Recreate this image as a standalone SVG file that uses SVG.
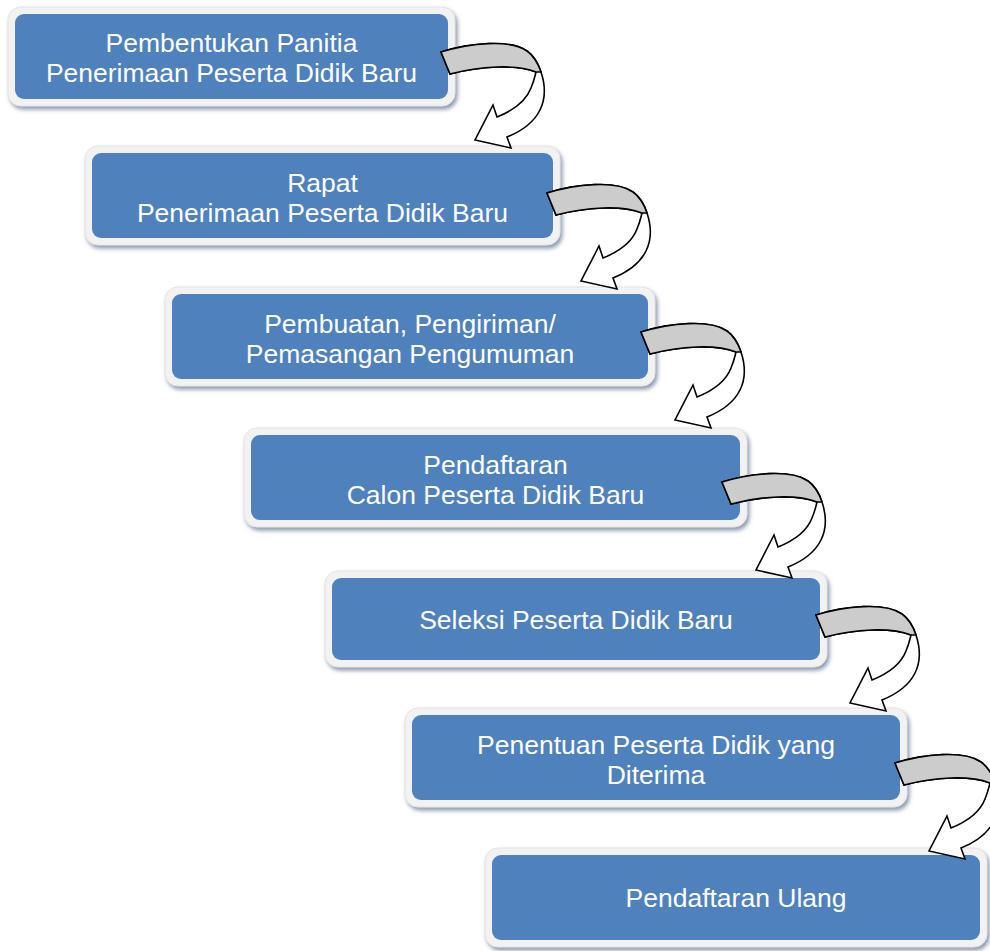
<svg xmlns="http://www.w3.org/2000/svg" xmlns:xlink="http://www.w3.org/1999/xlink" width="990" height="951" viewBox="0 0 990 951">
<style>
.frame{fill:#f2f2f2;stroke:#e4e4e4;stroke-width:1;filter:url(#sh)}
.box{fill:#4f81bd}
.lbl{font-family:"Liberation Sans",Arial,sans-serif;font-size:26.5px;fill:#ffffff;text-anchor:middle}
.aw{fill:#ffffff;stroke:#000000;stroke-width:1.6;stroke-linejoin:miter}
.ag{fill:#cccccc;stroke:#000000;stroke-width:1.6}
</style>
<defs>
<filter id="sh" x="-5%" y="-10%" width="112%" height="130%">
<feDropShadow dx="2" dy="3" stdDeviation="2" flood-color="#7d8ca5" flood-opacity="0.9"/>
</filter>
<g id="arrow">
<path class="aw" d="M441,52 C470,43 510,39 527,51 C534,56 538,63 541,72 C545,84 546,98 540,110 C534,122 522,131 507,137 L511,148 L475,140 L493,105 L497,117 C512,111 526,101 531,88 C534,81 535,76 536,72 C516,64 480,66 450,74 Z"/>
<path class="ag" d="M441,52 C470,43 510,39 527,51 C534,56 538,63 541,72 L536,72 C516,64 480,66 450,74 Z"/>
</g>
</defs>
<rect width="990" height="951" fill="#ffffff"/>
<g id="node-1">
<rect class="frame" x="8" y="7" width="447" height="99" rx="13"/>
<rect class="box" x="15" y="14" width="433" height="85" rx="9"/>
<text class="lbl" x="231.5" y="51.5">Pembentukan Panitia</text>
<text class="lbl" x="231.5" y="81.5">Penerimaan Peserta Didik Baru</text>
</g>
<g id="node-2">
<rect class="frame" x="85" y="146" width="475" height="99" rx="13"/>
<rect class="box" x="92" y="153" width="461" height="85" rx="9"/>
<text class="lbl" x="322.5" y="191.5">Rapat</text>
<text class="lbl" x="322.5" y="221.5">Penerimaan Peserta Didik Baru</text>
</g>
<g id="node-3">
<rect class="frame" x="165" y="287" width="490" height="99" rx="13"/>
<rect class="box" x="172" y="294" width="476" height="85" rx="9"/>
<text class="lbl" x="410" y="332.5">Pembuatan, Pengiriman/</text>
<text class="lbl" x="410" y="362.5">Pemasangan Pengumuman</text>
</g>
<g id="node-4">
<rect class="frame" x="244" y="428" width="503" height="99" rx="13"/>
<rect class="box" x="251" y="435" width="489" height="85" rx="9"/>
<text class="lbl" x="495.5" y="473.5">Pendaftaran</text>
<text class="lbl" x="495.5" y="503.5">Calon Peserta Didik Baru</text>
</g>
<g id="node-5">
<rect class="frame" x="325" y="571" width="502" height="96" rx="13"/>
<rect class="box" x="332" y="578" width="488" height="82" rx="9"/>
<text class="lbl" x="576" y="628.5">Seleksi Peserta Didik Baru</text>
</g>
<g id="node-6">
<rect class="frame" x="405" y="708" width="502" height="99" rx="13"/>
<rect class="box" x="412" y="715" width="488" height="85" rx="9"/>
<text class="lbl" x="656" y="753.5">Penentuan Peserta Didik yang</text>
<text class="lbl" x="656" y="783.5">Diterima</text>
</g>
<g id="node-7">
<rect class="frame" x="485" y="848" width="502" height="99" rx="13"/>
<rect class="box" x="492" y="855" width="488" height="85" rx="9"/>
<text class="lbl" x="736" y="906.5">Pendaftaran Ulang</text>
</g>
<g id="connectors">
<use xlink:href="#arrow"/>
<use xlink:href="#arrow" transform="translate(106,141)"/>
<use xlink:href="#arrow" transform="translate(200,280)"/>
<use xlink:href="#arrow" transform="translate(281,430)"/>
<use xlink:href="#arrow" transform="translate(375,563)"/>
<use xlink:href="#arrow" transform="translate(454,711)"/>
</g>
</svg>
